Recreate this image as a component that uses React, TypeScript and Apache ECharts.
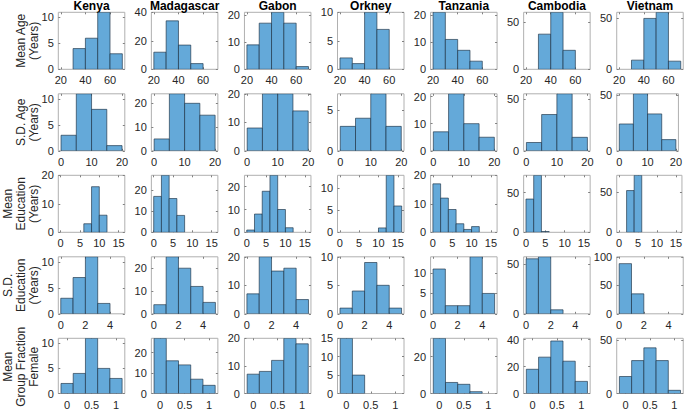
import React, { useEffect, useRef } from "react";
import * as echarts from "echarts";

const countries = ["Kenya", "Madagascar", "Gabon", "Orkney", "Tanzania", "Cambodia", "Vietnam"];

const rowLabels = [
  ["Mean Age", "(Years)"],
  ["S.D. Age", "(Years)"],
  ["Mean", "Education", "(Years)"],
  ["S.D.", "Education", "(Years)"],
  ["Mean", "Group Fraction", "Female"],
];

// Row 1: Mean Age (Years)
const meanAgeEdges = [20, 30, 40, 50, 60, 70];
const meanAgeCounts = [
  [0, 4, 6, 11, 3],
  [12, 34, 17, 4, 0],
  [9, 17, 21, 17, 1],
  [2, 1, 10, 7, 0],
  [21, 11, 7, 3, 0],
  [0, 37, 60, 20, 0],
  [0, 9, 50, 56, 8],
];
const meanAgeYMax = [11, 40, 21, 10, 21, 60, 56];
const meanAgeYTicks = [[0, 5, 10], [0, 20, 40], [0, 10, 20], [0, 5, 10], [0, 10, 20], [0, 50], [0, 50]];
const meanAgeXTicks = [20, 40, 60];
const meanAgeXRange = [18, 72];

// Row 2: S.D. Age (Years)
const sdAgeEdges = [0, 5, 10, 15, 20];
const sdAgeCounts = [
  [3, 11, 8, 1],
  [5, 24, 20, 15],
  [8, 20, 20, 14],
  [3, 4, 7, 3],
  [7, 21, 10, 5],
  [8, 35, 55, 13],
  [24, 51, 33, 10],
];
const sdAgeYMax = [11, 24, 20, 7, 21, 55, 51];
const sdAgeYTicks = [[0, 5, 10], [0, 10, 20], [0, 10, 20], [0, 5], [0, 10, 20], [0, 50], [0, 50]];
const sdAgeXTicks = [0, 10, 20];
const sdAgeXRange = [-0.9, 20.9];

// Row 3: Mean Education (Years)
const meanEduEdges = [0, 2, 4, 6, 8, 10, 12, 14, 16];
const meanEduCounts = [
  [0, 0, 0, 3, 16, 6, 0, 0],
  [17, 27, 16, 8, 0, 0, 0, 0],
  [1, 8, 18, 25, 10, 2, 0, 0],
  [0, 0, 0, 0, 0, 1, 13, 6],
  [17, 12, 8, 3, 1, 2, 0, 0],
  [42, 72, 1, 0, 0, 0, 0, 0],
  [0, 52, 71, 0, 0, 0, 0, 0],
];
const meanEduYMax = [20, 27, 25, 13, 20, 72, 71];
const meanEduYTicks = [[0, 10, 20], [0, 10, 20], [0, 10, 20], [0, 5, 10], [0, 10, 20], [0, 50], [0, 50]];
const meanEduXTicks = [0, 5, 10, 15];
const meanEduXRange = [-0.6, 16.6];

// Row 4: S.D. Education (Years)
const sdEduEdges = [0, 1, 2, 3, 4, 5];
const sdEduCounts = [
  [3, 7, 11, 2, 0],
  [4, 25, 20, 12, 5],
  [7, 20, 15, 16, 5],
  [1, 4, 9, 5, 1],
  [11, 2, 2, 14, 5],
  [55, 57, 4, 0, 0],
  [88, 35, 0, 0, 0],
];
const sdEduYMax = [11, 25, 20, 10, 14, 57, 100];
const sdEduYTicks = [[0, 5, 10], [0, 10, 20], [0, 10, 20], [0, 5, 10], [0, 5, 10], [0, 50], [0, 50, 100]];
const sdEduXTicks = [0, 2, 4];
const sdEduXRange = [-0.2, 5.2];

// Row 5: Mean Group Fraction Female
const fracEdges = [-0.125, 0.125, 0.375, 0.625, 0.875, 1.125];
const fracCounts = [
  [2, 4, 11, 5, 3],
  [27, 16, 14, 7, 4],
  [7, 8, 12, 20, 18],
  [15, 5, 0, 0, 0],
  [30, 6, 5, 1, 0],
  [18, 27, 39, 24, 9],
  [16, 31, 43, 31, 3],
];
const fracYMax = [11, 27, 20, 15, 30, 41, 52];
const fracYTicks = [[0, 5, 10], [0, 10, 20], [0, 10, 20], [0, 5, 10, 15], [0, 20], [0, 20, 40], [0, 50]];
const fracXTicks = [0, 0.5, 1];
const fracXRange = [-0.18, 1.18];

const rows = [
  { edges: meanAgeEdges, counts: meanAgeCounts, yMax: meanAgeYMax, yTicks: meanAgeYTicks, xTicks: meanAgeXTicks, xRange: meanAgeXRange },
  { edges: sdAgeEdges, counts: sdAgeCounts, yMax: sdAgeYMax, yTicks: sdAgeYTicks, xTicks: sdAgeXTicks, xRange: sdAgeXRange },
  { edges: meanEduEdges, counts: meanEduCounts, yMax: meanEduYMax, yTicks: meanEduYTicks, xTicks: meanEduXTicks, xRange: meanEduXRange },
  { edges: sdEduEdges, counts: sdEduCounts, yMax: sdEduYMax, yTicks: sdEduYTicks, xTicks: sdEduXTicks, xRange: sdEduXRange },
  { edges: fracEdges, counts: fracCounts, yMax: fracYMax, yTicks: fracYTicks, xTicks: fracXTicks, xRange: fracXRange },
];

const FONT = '"Liberation Sans", Arial, Helvetica, sans-serif';
const GRID_LEFT0 = 58.3;
const GRID_DX = 93.07;
const GRID_W = 66.5;
const GRID_TOP0 = 12.3;
const GRID_DY = 81.5;
const GRID_H = 57;
const BAR_FILL = "#64a9d9";
const BAR_STROKE = "rgba(25,45,65,0.8)";
const BOX = "#b0b0b0";
const TICK = "#808080";
const LABEL = "#262626";

function axisBase(min: number, max: number, ticks: number[], labels: boolean, margin: number) {
  return {
    type: "value",
    min,
    max,
    axisLine: { show: false, onZero: false },
    splitLine: { show: false },
    splitArea: { show: false },
    minorTick: { show: false },
    axisTick: { show: true, inside: true, length: 2, lineStyle: { color: TICK, width: 1 }, customValues: ticks },
    axisLabel: labels
      ? { show: true, customValues: ticks, fontSize: 11, color: LABEL, fontFamily: FONT, margin }
      : { show: false },
  };
}

function buildOption() {
  const grids: any[] = [];
  const xAxes: any[] = [];
  const yAxes: any[] = [];
  const mirrorX: any[] = [];
  const mirrorY: any[] = [];
  const series: any[] = [];
  const graphics: any[] = [];

  rows.forEach((row, r) => {
    countries.forEach((_, c) => {
      const idx = r * countries.length + c;
      grids.push({
        left: GRID_LEFT0 + GRID_DX * c,
        top: GRID_TOP0 + GRID_DY * r,
        width: GRID_W,
        height: GRID_H,
        show: true,
        borderColor: BOX,
        borderWidth: 1,
        backgroundColor: "transparent",
        containLabel: false,
      });
      xAxes.push({ ...axisBase(row.xRange[0], row.xRange[1], row.xTicks, true, 5.5), gridIndex: idx, position: "bottom" });
      yAxes.push({ ...axisBase(0, row.yMax[c], row.yTicks[c], true, 4.5), gridIndex: idx, position: "left" });
      mirrorX.push({ ...axisBase(row.xRange[0], row.xRange[1], row.xTicks, false, 0), gridIndex: idx, position: "top" });
      mirrorY.push({ ...axisBase(0, row.yMax[c], row.yTicks[c], false, 0), gridIndex: idx, position: "right" });
      const data: number[][] = [];
      row.counts[c].forEach((v, i) => {
        if (v > 0) data.push([row.edges[i], row.edges[i + 1], v]);
      });
      series.push({
        type: "custom",
        xAxisIndex: idx,
        yAxisIndex: idx,
        clip: true,
        silent: true,
        encode: { x: [0, 1], y: 2 },
        data,
        renderItem: (params: any, api: any) => {
          const p0 = api.coord([api.value(0), 0]);
          const p1 = api.coord([api.value(1), api.value(2)]);
          return {
            type: "rect",
            shape: { x: p0[0], y: p1[1], width: p1[0] - p0[0], height: p0[1] - p1[1] },
            style: { fill: BAR_FILL, stroke: BAR_STROKE, lineWidth: 0.8 },
          };
        },
      });
    });
  });

  // column titles
  countries.forEach((name, c) => {
    graphics.push({
      type: "text",
      x: GRID_LEFT0 + GRID_DX * c + GRID_W / 2,
      y: 6,
      style: { text: name, font: `bold 12px ${FONT}`, fill: "#000", textAlign: "center", textVerticalAlign: "middle" },
    });
  });

  // row labels
  rowLabels.forEach((lines, r) => {
    const cy = GRID_TOP0 + GRID_DY * r + GRID_H / 2;
    lines.forEach((line, i) => {
      graphics.push({
        type: "text",
        x: 34.2 - 13 * (lines.length - 1 - i),
        y: cy,
        rotation: Math.PI / 2,
        style: { text: line, font: `12px ${FONT}`, fill: LABEL, textAlign: "center", textVerticalAlign: "middle" },
      });
    });
  });

  return {
    animation: false,
    grid: grids,
    xAxis: [...xAxes, ...mirrorX],
    yAxis: [...yAxes, ...mirrorY],
    series,
    graphic: graphics,
  };
}

export default function App() {
  const ref = useRef<HTMLDivElement>(null);
  useEffect(() => {
    document.body.style.margin = "0";
    if (!ref.current) return;
    const chart = echarts.init(ref.current, null, { renderer: "svg" });
    chart.setOption(buildOption());
    return () => chart.dispose();
  }, []);
  return <div ref={ref} style={{ width: 685, height: 410, background: "#fff" }} />;
}
